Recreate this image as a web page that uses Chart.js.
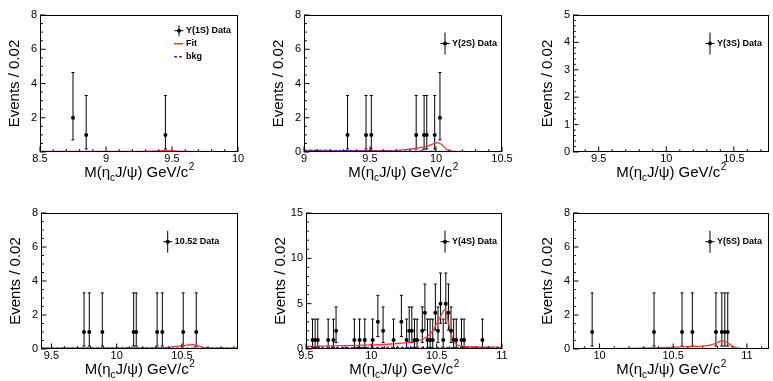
<!DOCTYPE html>
<html>
<head>
<meta charset="utf-8">
<script src="https://cdn.jsdelivr.net/npm/chart.js@4.4.0/dist/chart.umd.min.js"></script>
<style>
  html, body { margin: 0; padding: 0; background: #fff; }
  body { width: 773px; height: 381px; overflow: hidden; position: relative; }
  canvas { position: absolute; }
</style>
</head>
<body>
<canvas id="c1"></canvas>
<canvas id="c2"></canvas>
<canvas id="c3"></canvas>
<canvas id="c4"></canvas>
<canvas id="c5"></canvas>
<canvas id="c6"></canvas>
<script>
// Poisson 68% interval per event count (0..5)
const poissonLo = [0, 0.173, 0.708, 1.367, 2.086, 2.840];
const poissonHi = [0, 3.300, 4.638, 5.918, 7.163, 8.382];

// Y(1S)
const y1sMass = [8.75, 8.85, 9.45];
const y1sEvents = [2, 1, 1];
const y1sFitMass = [8.5, 9.0, 9.3, 9.4, 9.45, 9.5, 9.6, 10.0];
const y1sFitVal = [0.03, 0.03, 0.04, 0.07, 0.1, 0.07, 0.03, 0.02];
const y1sBkgMass = [8.5, 10.0];
const y1sBkgVal = [0.03, 0.02];

// Y(2S)
const y2sMass = [9.33, 9.47, 9.51, 9.85, 9.91, 9.93, 9.99, 10.03];
const y2sEvents = [1, 1, 1, 1, 1, 1, 1, 2];
const y2sFitMass = [9.0, 9.3, 9.6, 9.75, 9.85, 9.93, 9.98, 10.01, 10.04, 10.07, 10.1, 10.15, 10.3, 10.5];
const y2sFitVal = [0.1, 0.08, 0.08, 0.13, 0.22, 0.33, 0.48, 0.55, 0.45, 0.22, 0.08, 0.02, 0.0, 0.0];
const y2sBkgMass = [9.0, 9.5, 10.0, 10.5];
const y2sBkgVal = [0.1, 0.07, 0.04, 0.02];

// Y(3S) - no entries
const y3sMass = [];
const y3sEvents = [];

// 10.52 continuum
const c1052Mass = [9.75, 9.79, 9.89, 10.13, 10.15, 10.31, 10.35, 10.51, 10.61];
const c1052Events = [1, 1, 1, 1, 1, 1, 1, 1, 1];
const c1052FitMass = [9.42, 10.2, 10.4, 10.48, 10.54, 10.58, 10.62, 10.66, 10.7, 10.93];
const c1052FitVal = [0.05, 0.06, 0.1, 0.17, 0.23, 0.25, 0.2, 0.1, 0.06, 0.05];
const c1052BkgMass = [9.42, 10.93];
const c1052BkgVal = [0.06, 0.05];

// Y(4S)
const y4sMass = [9.55, 9.57, 9.59, 9.67, 9.71, 9.73, 9.87, 9.91, 9.95, 10.01, 10.05, 10.09,
  10.17, 10.23, 10.27, 10.29, 10.31, 10.33, 10.35, 10.39, 10.41, 10.43, 10.45, 10.47,
  10.49, 10.51, 10.53, 10.55, 10.57, 10.59, 10.61, 10.63, 10.65, 10.69, 10.71, 10.85];
const y4sEvents = [1, 1, 1, 1, 1, 2, 1, 1, 1, 1, 3, 2,
  1, 3, 1, 2, 2, 1, 1, 2, 4, 1, 1, 1,
  4, 2, 5, 1, 5, 4, 2, 1, 1, 1, 1, 1];
const y4sFitMass = [9.5, 9.8, 10.0, 10.15, 10.28, 10.4, 10.47, 10.5, 10.53, 10.56, 10.575, 10.59, 10.61, 10.63, 10.67, 10.75, 11.0];
const y4sFitVal = [0.3, 0.38, 0.45, 0.55, 0.73, 1.13, 2.0, 2.8, 3.6, 4.3, 4.0, 2.9, 1.7, 0.85, 0.37, 0.25, 0.2];
const y4sBkgMass = [9.5, 10.0, 10.5, 11.0];
const y4sBkgVal = [0.2, 0.18, 0.17, 0.15];

// Y(5S)
const y5sMass = [9.95, 10.37, 10.56, 10.63, 10.79, 10.83, 10.85, 10.87];
const y5sEvents = [1, 1, 1, 1, 1, 1, 1, 1];
const y5sFitMass = [9.82, 10.2, 10.48, 10.6, 10.73, 10.78, 10.81, 10.83, 10.85, 10.88, 10.91, 10.95, 11.15];
const y5sFitVal = [0.0, 0.04, 0.1, 0.14, 0.2, 0.3, 0.42, 0.49, 0.45, 0.3, 0.12, 0.03, 0.0];
const y5sBkgMass = [9.82, 11.15];
const y5sBkgVal = [0.03, 0.02];

const FONT = '"Liberation Sans", Arial, Helvetica, sans-serif';
const FIT_COLOR = '#ff3333';
const BKG_COLOR = '#2a2aff';

const panels = [
  { id: 'c1', box: [40, 15, 198, 137], xr: [8.5, 10], yr: [0, 8, 2, 0.5], hideZero: true,
    mass: y1sMass, events: y1sEvents, fit: [y1sFitMass, y1sFitVal], bkg: [y1sBkgMass, y1sBkgVal],
    label: 'Υ(1S) Data', leg: [139, 15.7, 5.5], fitKey: true },
  { id: 'c2', box: [304, 15, 198, 137], xr: [9, 10.5], yr: [0, 8, 2, 0.5],
    mass: y2sMass, events: y2sEvents, fit: [y2sFitMass, y2sFitVal], bkg: [y2sBkgMass, y2sBkgVal],
    label: 'Υ(2S) Data', leg: [141, 28.5, 11] },
  { id: 'c3', box: [573, 15, 196, 137], xr: [9.31, 10.76], yr: [0, 5, 1, 0.2],
    mass: y3sMass, events: y3sEvents, fit: null, bkg: null,
    label: 'Υ(3S) Data', leg: [137, 28.5, 11] },
  { id: 'c4', box: [41, 213, 197, 136], xr: [9.42, 10.93], yr: [0, 8, 2, 0.5],
    mass: c1052Mass, events: c1052Events, fit: [c1052FitMass, c1052FitVal], bkg: [c1052BkgMass, c1052BkgVal],
    label: '10.52 Data', leg: [126.7, 28.7, 11] },
  { id: 'c5', box: [306, 213, 196, 136], xr: [9.5, 11], yr: [0, 15, 5, 1],
    mass: y4sMass, events: y4sEvents, fit: [y4sFitMass, y4sFitVal], bkg: [y4sBkgMass, y4sBkgVal],
    label: 'Υ(4S) Data', leg: [139, 28.7, 11] },
  { id: 'c6', box: [573, 213, 196, 136], xr: [9.82, 11.15], yr: [0, 8, 2, 0.5],
    mass: y5sMass, events: y5sEvents, fit: [y5sFitMass, y5sFitVal], bkg: [y5sBkgMass, y5sBkgVal],
    label: 'Υ(5S) Data', leg: [137, 28.7, 11] }
];

function makeData(mass, events) {
  return mass.map((m, i) => ({ x: m, y: events[i], lo: poissonLo[events[i]], hi: poissonHi[events[i]] }));
}
function makeCurve(c) {
  return c ? c[0].map((v, i) => ({ x: v, y: c[1][i] })) : [];
}

function eachTick(scale, minor, major, fn) {
  const k0 = Math.ceil(scale.min / minor - 1e-6), k1 = Math.floor(scale.max / minor + 1e-6);
  for (let k = k0; k <= k1; k++) {
    const v = k * minor, r = v / major;
    fn(scale.getPixelForValue(v), Math.abs(r - Math.round(r)) < 1e-6);
  }
}

// ROOT-like frame, inward ticks, error bars, legend and axis titles
const rootStyle = {
  id: 'rootStyle',
  beforeDatasetsDraw(chart) {
    const { ctx, chartArea: a, scales: { x, y } } = chart;
    ctx.save();
    ctx.beginPath();
    ctx.rect(a.left, a.top, a.width, a.height);
    ctx.clip();
    ctx.strokeStyle = '#000';
    ctx.lineWidth = 1;
    ctx.beginPath();
    chart.data.datasets[0].data.forEach(p => {
      const px = x.getPixelForValue(p.x);
      const top = y.getPixelForValue(p.hi), bot = y.getPixelForValue(p.lo);
      ctx.moveTo(px, top); ctx.lineTo(px, bot);
      ctx.moveTo(px - 1.5, top); ctx.lineTo(px + 1.5, top);
      ctx.moveTo(px - 1.5, bot); ctx.lineTo(px + 1.5, bot);
    });
    ctx.stroke();
    ctx.restore();
  },
  afterDraw(chart, args, opts) {
    const { ctx, chartArea: a, scales: { x, y } } = chart;
    ctx.save();
    ctx.strokeStyle = '#000';
    ctx.fillStyle = '#000';
    ctx.lineWidth = 1;
    ctx.strokeRect(a.left + 0.5, a.top + 0.5, a.width - 1, a.height - 1);

    ctx.beginPath();
    eachTick(x, 0.1, 0.5, (px, major) => {
      const len = major ? 5.5 : 2.8;
      ctx.moveTo(px, a.bottom); ctx.lineTo(px, a.bottom - len);
    });
    eachTick(y, opts.yMinor, opts.yMajor, (py, major) => {
      const len = major ? 5.5 : 2.8;
      ctx.moveTo(a.left, py); ctx.lineTo(a.left + len, py);
    });
    ctx.stroke();

    // legend
    const lx = a.left + opts.leg[0], ly = a.top + opts.leg[1], lh = opts.leg[2];
    ctx.beginPath();
    ctx.moveTo(lx, ly - lh); ctx.lineTo(lx, ly + lh);
    ctx.moveTo(lx - 4.5, ly); ctx.lineTo(lx + 4.5, ly);
    ctx.stroke();
    ctx.beginPath();
    ctx.arc(lx, ly, 2, 0, Math.PI * 2);
    ctx.fill();
    ctx.font = 'bold 9px ' + FONT;
    ctx.textAlign = 'left';
    ctx.textBaseline = 'middle';
    ctx.fillText(opts.label, lx + 7, ly);
    if (opts.fitKey) {
      ctx.lineWidth = 1.5;
      ctx.strokeStyle = FIT_COLOR;
      ctx.beginPath(); ctx.moveTo(lx - 5, ly + 13); ctx.lineTo(lx + 4, ly + 13); ctx.stroke();
      ctx.fillText('Fit', lx + 7, ly + 13);
      ctx.strokeStyle = BKG_COLOR;
      ctx.setLineDash([3, 2]);
      ctx.beginPath(); ctx.moveTo(lx - 5, ly + 26); ctx.lineTo(lx + 4, ly + 26); ctx.stroke();
      ctx.setLineDash([]);
      ctx.fillText('bkg', lx + 7, ly + 26);
    }

    // axis titles
    const big = '15px ' + FONT, small = '10px ' + FONT;
    ctx.fillStyle = '#000';
    ctx.textBaseline = 'alphabetic';
    ctx.font = big;
    const w1 = ctx.measureText('M(η').width, w3 = ctx.measureText('J/ψ) GeV/c').width;
    ctx.font = small;
    const w2 = ctx.measureText('c').width, w4 = ctx.measureText('2').width;
    let sx = (a.left + a.right) / 2 - (w1 + w2 + w3 + w4) / 2;
    const base = a.bottom + 24.5;
    ctx.font = big; ctx.fillText('M(η', sx, base); sx += w1;
    ctx.font = small; ctx.fillText('c', sx, base + 4); sx += w2;
    ctx.font = big; ctx.fillText('J/ψ) GeV/c', sx, base); sx += w3;
    ctx.font = small; ctx.fillText('2', sx + 0.5, base - 7);

    ctx.translate(a.left - 25.5, (a.top + a.bottom) / 2);
    ctx.rotate(-Math.PI / 2);
    ctx.font = big;
    ctx.textAlign = 'center';
    ctx.textBaseline = 'middle';
    ctx.fillText('Events / 0.02', 0, 0);
    ctx.restore();
  }
};

const fmt = v => String(Math.round(v * 100) / 100);

panels.forEach(p => {
  const [L, T, W, H] = p.box;
  const canvas = document.getElementById(p.id);
  const cw = W + 60, ch = H + 51;
  canvas.width = cw; canvas.height = ch;
  canvas.style.width = cw + 'px'; canvas.style.height = ch + 'px';
  canvas.style.left = (L - 40) + 'px'; canvas.style.top = (T - 15) + 'px';

  new Chart(canvas, {
    type: 'scatter',
    data: {
      datasets: [
        { data: makeData(p.mass, p.events), pointRadius: 2, pointBackgroundColor: '#000',
          pointBorderWidth: 0, showLine: false, order: 0 },
        { type: 'line', data: makeCurve(p.bkg), borderColor: BKG_COLOR, borderWidth: 1.2,
          borderDash: [3, 2], pointRadius: 0, fill: false, cubicInterpolationMode: 'monotone', order: 1 },
        { type: 'line', data: makeCurve(p.fit), borderColor: FIT_COLOR, borderWidth: 1.3,
          pointRadius: 0, fill: false, cubicInterpolationMode: 'monotone', order: 2 }
      ]
    },
    options: {
      responsive: false,
      animation: false,
      devicePixelRatio: 1,
      events: [],
      layout: { padding: { top: 15, right: 20, left: 0, bottom: 0 } },
      plugins: {
        legend: { display: false },
        tooltip: { enabled: false },
        rootStyle: { label: p.label, leg: p.leg, fitKey: !!p.fitKey, yMajor: p.yr[2], yMinor: p.yr[3] }
      },
      scales: {
        x: {
          type: 'linear', min: p.xr[0], max: p.xr[1],
          grid: { display: false, drawTicks: false },
          border: { display: false },
          ticks: { stepSize: 0.5, includeBounds: false, autoSkip: false, maxRotation: 0,
            padding: 0, color: '#000', font: { family: FONT, size: 11 }, callback: v => fmt(v) },
          afterFit: s => { s.height = 36; }
        },
        y: {
          type: 'linear', min: p.yr[0], max: p.yr[1],
          grid: { display: false, drawTicks: false },
          border: { display: false },
          ticks: { stepSize: p.yr[2], includeBounds: false, autoSkip: false,
            padding: 3, color: '#000', font: { family: FONT, size: 11 },
            callback: v => (p.hideZero && v === 0) ? '' : fmt(v) },
          afterFit: s => { s.width = 40; }
        }
      }
    },
    plugins: [rootStyle]
  });
});
</script>
</body>
</html>
